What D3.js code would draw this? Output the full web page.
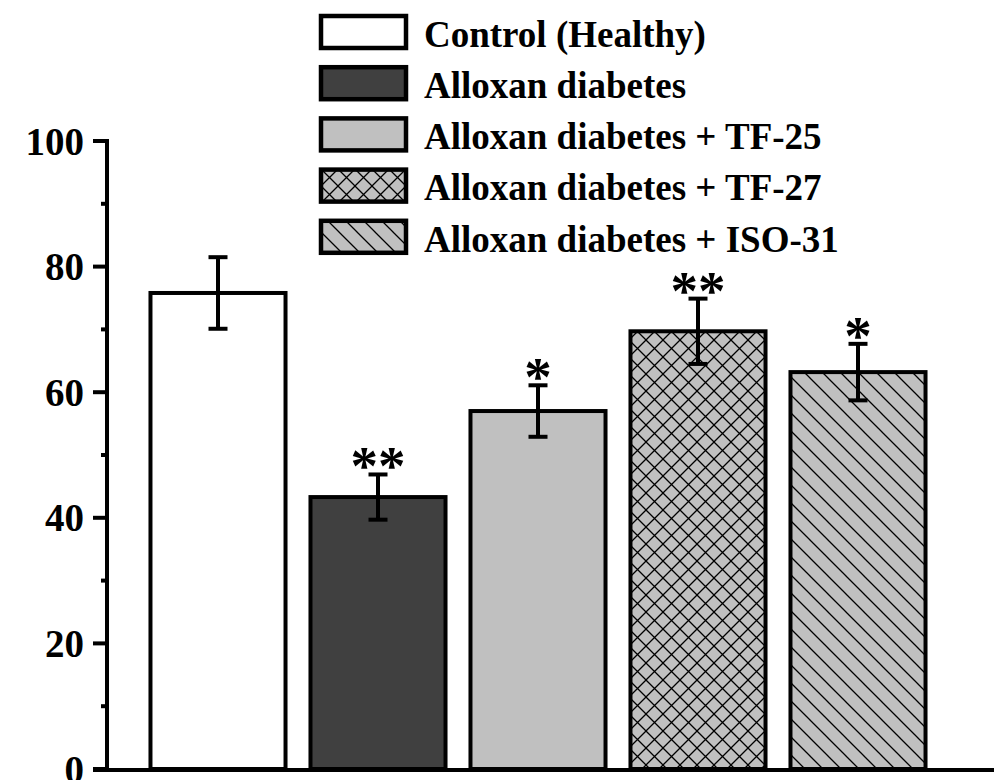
<!DOCTYPE html>
<html>
<head>
<meta charset="utf-8">
<script src="https://cdn.jsdelivr.net/npm/d3@7"></script>
<style>
    body { margin: 0; background: #fff; }
    svg { display: block; font-family: "Liberation Serif", "Times New Roman", serif; font-weight: bold; }
</style>
</head>
<body>
<div id="chart"></div>
<script>
// data
const groups = ["Control (Healthy)", "Alloxan diabetes", "Alloxan diabetes + TF-25", "Alloxan diabetes + TF-27", "Alloxan diabetes + ISO-31"];
const means = [75.8, 43.3, 57.0, 69.7, 63.2];
const errors = [5.7, 3.6, 4.1, 5.2, 4.5];
const stars = ["", "**", "*", "**", "*"];
const yTicks = [0, 20, 40, 60, 80, 100];
const yMinorTicks = [10, 30, 50, 70, 90];

const fills = ["#ffffff", "#404040", "#c0c0c0", "url(#crossHatch)", "url(#diagHatch)"];

const width = 994, height = 780;

const svg = d3.select("#chart")
    .append("svg")
    .attr("width", width)
    .attr("height", height);

// hatch patterns
const defs = svg.append("defs");

const cross = defs.append("pattern")
    .attr("id", "crossHatch")
    .attr("patternUnits", "userSpaceOnUse")
    .attr("width", 17)
    .attr("height", 17);
cross.append("rect").attr("width", 17).attr("height", 17).attr("fill", "#c0c0c0");
cross.append("path")
    .attr("d", "M0,0L17,17M17,0L0,17M-2,15L2,19M15,-2L19,2M-2,2L2,-2M15,19L19,15")
    .attr("stroke", "#000")
    .attr("stroke-width", 1.3);

const diag = defs.append("pattern")
    .attr("id", "diagHatch")
    .attr("patternUnits", "userSpaceOnUse")
    .attr("width", 18)
    .attr("height", 18);
diag.append("rect").attr("width", 18).attr("height", 18).attr("fill", "#c0c0c0");
diag.append("path")
    .attr("d", "M0,0L18,18M-3,15L3,21M15,-3L21,3")
    .attr("stroke", "#000")
    .attr("stroke-width", 1.3);

// scales
const x = d3.scaleBand()
    .domain(groups)
    .range([138, 938])
    .paddingInner(0.156)
    .paddingOuter(0.078);

const y = d3.scaleLinear()
    .domain([0, 100])
    .range([769, 141]);

// bars
svg.selectAll(".bar")
    .data(groups)
    .enter().append("rect")
    .attr("class", "bar")
    .attr("x", d => x(d))
    .attr("y", (d, i) => y(means[i]))
    .attr("width", x.bandwidth())
    .attr("height", (d, i) => y(0) - y(means[i]))
    .attr("fill", (d, i) => fills[i])
    .attr("stroke", "#000")
    .attr("stroke-width", 4);

// error bars
const capW = 19;
const err = svg.selectAll(".err")
    .data(groups)
    .enter().append("g")
    .attr("class", "err")
    .attr("stroke", "#000")
    .attr("stroke-width", 4);

err.append("line")
    .attr("x1", d => x(d) + x.bandwidth() / 2)
    .attr("x2", d => x(d) + x.bandwidth() / 2)
    .attr("y1", (d, i) => y(means[i] + errors[i]))
    .attr("y2", (d, i) => y(means[i] - errors[i]));
err.append("line")
    .attr("x1", d => x(d) + x.bandwidth() / 2 - capW / 2)
    .attr("x2", d => x(d) + x.bandwidth() / 2 + capW / 2)
    .attr("y1", (d, i) => y(means[i] + errors[i]))
    .attr("y2", (d, i) => y(means[i] + errors[i]));
err.append("line")
    .attr("x1", d => x(d) + x.bandwidth() / 2 - capW / 2)
    .attr("x2", d => x(d) + x.bandwidth() / 2 + capW / 2)
    .attr("y1", (d, i) => y(means[i] - errors[i]))
    .attr("y2", (d, i) => y(means[i] - errors[i]));

// significance marks
svg.selectAll(".star")
    .data(groups)
    .enter().append("text")
    .attr("class", "star")
    .attr("x", d => x(d) + x.bandwidth() / 2)
    .attr("y", (d, i) => y(means[i] + errors[i]) + 10)
    .attr("text-anchor", "middle")
    .style("font-size", "55px")
    .text((d, i) => stars[i]);

// y axis
const yAxis = svg.append("g").attr("class", "y axis");
yAxis.append("line")
    .attr("x1", 107).attr("x2", 107)
    .attr("y1", y(100) - 2).attr("y2", y(0))
    .attr("stroke", "#000").attr("stroke-width", 4);
yAxis.selectAll(".major")
    .data(yTicks)
    .enter().append("line")
    .attr("x1", 93).attr("x2", 109)
    .attr("y1", d => y(d)).attr("y2", d => y(d))
    .attr("stroke", "#000").attr("stroke-width", 4);
yAxis.selectAll(".minor")
    .data(yMinorTicks)
    .enter().append("line")
    .attr("x1", 101).attr("x2", 109)
    .attr("y1", d => y(d)).attr("y2", d => y(d))
    .attr("stroke", "#000").attr("stroke-width", 4);
yAxis.selectAll("text")
    .data(yTicks)
    .enter().append("text")
    .attr("x", 84)
    .attr("y", d => y(d))
    .attr("dy", "0.35em")
    .attr("text-anchor", "end")
    .style("font-size", "39px")
    .text(d => d);

// x axis baseline
svg.append("line")
    .attr("x1", 93).attr("x2", width)
    .attr("y1", y(0) + 1).attr("y2", y(0) + 1)
    .attr("stroke", "#000").attr("stroke-width", 4);

// legend
const legend = svg.append("g")
    .attr("class", "legend")
    .attr("transform", "translate(321, 16)");

legend.selectAll("rect")
    .data(groups)
    .enter().append("rect")
    .attr("x", 0)
    .attr("y", (d, i) => i * 51.2)
    .attr("width", 85)
    .attr("height", 32)
    .attr("fill", (d, i) => fills[i])
    .attr("stroke", "#000")
    .attr("stroke-width", 4.5);

legend.selectAll("text")
    .data(groups)
    .enter().append("text")
    .attr("x", 103)
    .attr("y", (d, i) => i * 51.2 + 16)
    .attr("dy", "0.4em")
    .style("font-size", "37px")
    .text(d => d);
</script>
</body>
</html>
